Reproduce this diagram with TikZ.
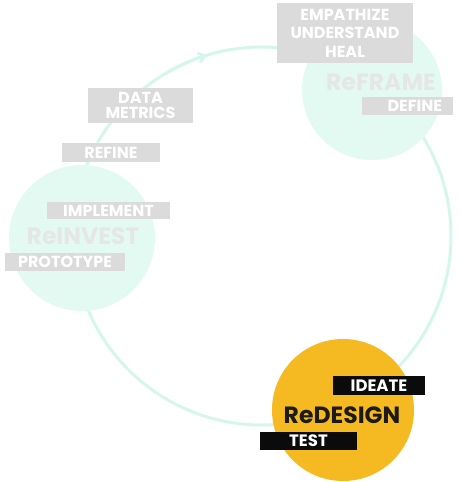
\documentclass[tikz,border=0pt]{standalone}
\usepackage{fontspec}
\setmainfont{Poppins}
\usetikzlibrary{arrows.meta,calc}
\definecolor{mintline}{HTML}{D4F6EC}
\definecolor{mintdisc}{HTML}{E2FAF2}
\definecolor{boxgrey}{HTML}{DBDBDB}
\definecolor{labelgrey}{HTML}{E4E7E6}
\definecolor{gold}{HTML}{F5B921}
\definecolor{inkblack}{HTML}{0B0B0B}
\definecolor{darktext}{HTML}{1C1A14}
\tikzset{
  cycleline/.style={draw=mintline, line width=3pt},
  disc/.style={circle, fill=mintdisc, inner sep=0pt},
  hotdisc/.style={circle, fill=gold, inner sep=0pt},
  greybox/.style={fill=boxgrey, text=white, font=\bfseries\fontsize{16}{15}\selectfont, inner sep=0pt, align=center},
  blackbox/.style={fill=inkblack, text=white, font=\bfseries\fontsize{16.5}{15}\selectfont, inner sep=0pt, align=center},
  phase/.style={text=labelgrey, font=\bfseries\fontsize{23.5}{24}\selectfont, inner sep=0pt},
  hotphase/.style={text=darktext, font=\bfseries\fontsize{23.5}{24}\selectfont, inner sep=0pt}
}
\begin{document}
\begin{tikzpicture}[x=1pt,y=-1pt]
\useasboundingbox (0,0) rectangle (459,482);
% cycle
\coordinate (center) at (262,236);
\draw[cycleline] (center) circle (189);
\draw[cycleline, -{Straight Barb[length=6pt,width=10pt]}] ($(center)+(240:189)$) arc (240:253:189);
% discs
\node[disc, minimum size=140pt] (reframe) at (372,90) {};
\node[disc, minimum size=146pt] (reinvest) at (82,238) {};
\node[hotdisc, minimum size=142pt] (redesign) at (343,410) {};
% ReFRAME
\node[greybox, font=\bfseries\fontsize{16}{18.5}\selectfont, minimum width=136pt, minimum height=60pt] (empathize) at (345,33) {EMPATHIZE\\UNDERSTAND\\HEAL};
\node[phase] (reframelabel) at (381,82) {ReFRAME};
\node[greybox, minimum width=91pt, minimum height=18pt, text width=69pt, align=right, inner xsep=11pt] (define) at (407.5,106) {DEFINE};
% ReINVEST
\node[greybox, minimum width=105pt, minimum height=35pt] (data) at (140.5,105.5) {DATA\\METRICS};
\node[greybox, minimum width=98pt, minimum height=19pt] (refine) at (111,152.5) {REFINE};
\node[greybox, minimum width=123pt, minimum height=17pt] (implement) at (108.5,210.5) {IMPLEMENT};
\node[phase] (reinvestlabel) at (83,236) {ReINVEST};
\node[greybox, minimum width=120pt, minimum height=18pt] (prototype) at (65,262) {PROTOTYPE};
% ReDESIGN
\node[blackbox, minimum width=92pt, minimum height=19pt] (ideate) at (379,385.5) {IDEATE};
\node[hotphase] (redesignlabel) at (342,415) {ReDESIGN};
\node[blackbox, minimum width=97pt, minimum height=18pt] (test) at (308.5,441) {TEST};
\end{tikzpicture}
\end{document}
